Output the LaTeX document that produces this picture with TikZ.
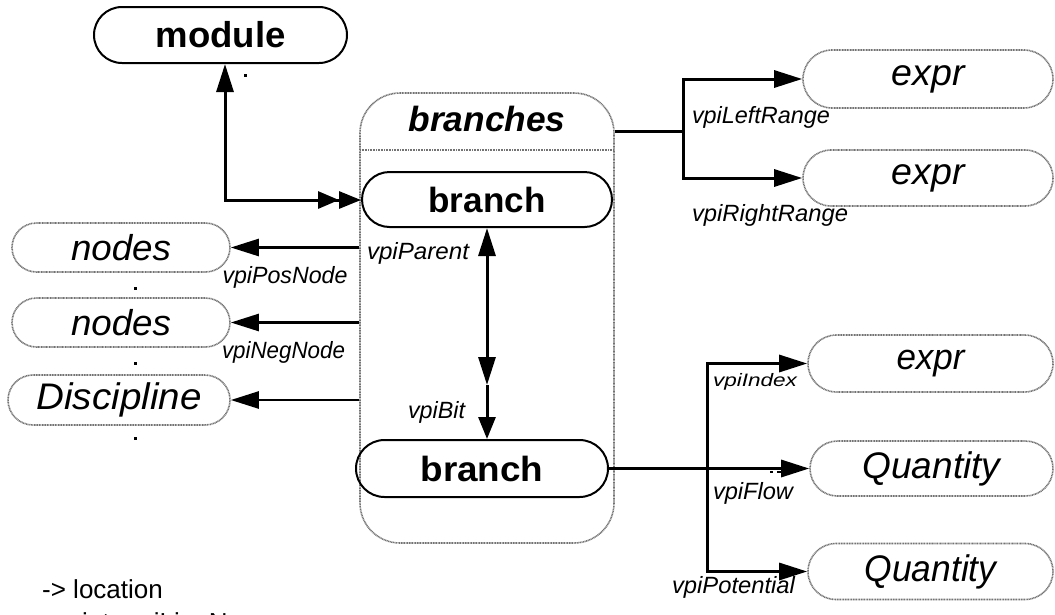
\documentclass[tikz,border=0pt]{standalone}
\usepackage{fontspec}
\setmainfont{Liberation Sans}
\usepackage{graphicx}
\usetikzlibrary{arrows.meta,shapes.misc}
\newcommand\fitw[2]{\resizebox{#1pt}{\height}{#2}}
\tikzset{
  solidpill/.style 2 args={shape=rounded rectangle, draw=black, line width=2pt,
     minimum width=#1, minimum height=#2, inner sep=0pt},
  greypill/.style 2 args={shape=rounded rectangle, draw=black!55, line width=1.6pt,
     dash pattern=on 1pt off 0.6pt, minimum width=#1, minimum height=#2, inner sep=0pt},
  greyline/.style={draw=black!55, line width=1.6pt, dash pattern=on 1pt off 0.6pt},
  conn/.style={line width=3pt, draw=black},
  thinconn/.style={line width=2.5pt, draw=black},
  lab/.style={inner sep=0pt, font=\fontsize{23.5}{23.5}\selectfont\itshape},
  >={Triangle[length=28pt,width=17pt]}
}
\begin{document}
\begin{tikzpicture}[x=1pt,y=-1pt]
\useasboundingbox (0,0) rectangle (1055,614);
% container
\node[greyline, rounded corners=40pt, minimum width=254pt, minimum height=450pt, inner sep=0pt] (cont) at (487,318) {};
\draw[greyline] (360,150) -- (614,150);
\node[inner sep=0pt] (brs) at (487,119) {\fontsize{35}{35}\selectfont\bfseries\itshape\fitw{157}{branches}};
% nodes
\node[solidpill={253pt}{56pt}] (module) at (220.5,35) {\fontsize{36}{36}\selectfont\bfseries\fitw{130}{module}};
\node[solidpill={250pt}{55pt}] (b1) at (487,199.5) {\fontsize{35}{35}\selectfont\bfseries\fitw{117}{branch}};
\node[solidpill={252pt}{57pt}] (b2) at (482,468.5) {\fontsize{35}{35}\selectfont\bfseries\fitw{123}{branch}};
\node[greypill={250pt}{58pt}] (e1) at (928,79) {\fontsize{37}{37}\selectfont\itshape\fitw{73}{expr}};
\node[greypill={250pt}{56pt}] (e2) at (928,178) {\fontsize{37}{37}\selectfont\itshape\fitw{73}{expr}};
\node[greypill={218pt}{49pt}] (n1) at (121,247.5) {\fontsize{36}{36}\selectfont\itshape\fitw{100}{nodes}};
\node[greypill={218pt}{49pt}] (n2) at (121,322.5) {\fontsize{36}{36}\selectfont\itshape\fitw{100}{nodes}};
\node[greypill={222pt}{50pt}] (disc) at (119,400) {\fontsize{37}{37}\selectfont\itshape\fitw{165}{Discipline}};
\node[greypill={245pt}{57pt}] (e3) at (930.5,363.5) {\fontsize{36}{36}\selectfont\itshape\fitw{68}{expr}};
\node[greypill={243pt}{55pt}] (q1) at (931.5,468.5) {\fontsize{37}{37}\selectfont\itshape\fitw{138}{Quantity}};
\node[greypill={245pt}{56pt}] (q2) at (930.5,571.5) {\fontsize{37}{37}\selectfont\itshape\fitw{132}{Quantity}};
% module <-> branch
\coordinate (mc) at (225,200);
\draw[conn, {Triangle[length=28pt,width=17pt]}-{Triangle[length=21pt,width=17pt]Triangle[length=22pt,width=17pt]}]
  (module.south -| mc) -- (mc) -- (b1.west |- mc);
% range
\coordinate (j1) at (683,131);
\draw[conn] (cont.east |- j1) -- (j1);
\draw[conn,->] (j1) |- (e1.west);
\draw[conn,->] (j1) |- (e2.west);
\node[lab] (lLR) at (761,117) {\fitw{138}{vpiLeftRange}};
\node[lab] (lRR) at (770,215) {\fitw{156}{vpiRightRange}};
% left
\draw[thinconn,->] (cont.west |- n1.east) -- (n1.east);
\draw[thinconn,->] (cont.west |- n2.east) -- (n2.east);
\draw[thinconn,->] (cont.west |- disc.east) -- (disc.east);
\node[lab] (lPos) at (285,277) {\fitw{125}{vpiPosNode}};
\node[lab] (lNeg) at (283.5,352) {\fitw{123}{vpiNegNode}};
\node[lab] (lPar) at (418,253) {\fitw{102}{vpiParent}};
% parent / bit
\coordinate (vm) at (487,385);
\draw[conn,<->] (b1.south) -- (vm);
\draw[conn,-{Triangle[length=22pt,width=17pt]}] (vm) -- (b2.north -| vm);
\node[lab] (lBit) at (436.5,412) {\fitw{57}{vpiBit}};
% bottom right
\coordinate (j2) at (707,468.5);
\draw[conn,->] (b2.east) -- (q1.west);
\draw[conn,->] (j2) |- (e3.west);
\draw[conn,->] (j2) |- (q2.west);
\node[lab, font=\fontsize{18}{18}\selectfont\itshape] (lIdx) at (755,382) {\fitw{84}{vpiIndex}};
\node[lab] (lFlow) at (753,493) {\fitw{80}{vpiFlow}};
\node[lab] (lPot) at (733.5,587) {\fitw{123}{vpiPotential}};
% legend
\node[anchor=base west, inner sep=0pt, font=\fontsize{26}{26}\selectfont] (loc) at (42,598) {-> location};
\node[anchor=base west, inner sep=0pt, font=\fontsize{26}{26}\selectfont] (lno) at (82,631) {int: vpiLineNo};
% small marks
\fill (244,74) rectangle (247,77);
\fill (134,287) rectangle (137,290);
\fill (134,362) rectangle (137,365);
\fill (134,437) rectangle (137,440);
\fill (770,471) rectangle (773,473);
\fill (777,471) rectangle (783,473);
\end{tikzpicture}
\end{document}
